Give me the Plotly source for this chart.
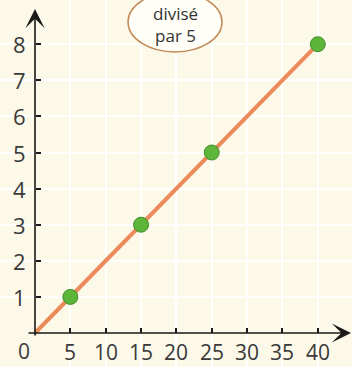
import plotly.graph_objects as go

# data
x_points = [5, 15, 25, 40]
y_points = [1, 3, 5, 8]
x_ticks = [5, 10, 15, 20, 25, 30, 35, 40]
y_ticks = [1, 2, 3, 4, 5, 6, 7, 8]
bubble_text = "divisé<br>par 5"

W, H = 352, 367
X0_PX, PX_PER_X = 35, 7.07
Y0_PX, PX_PER_Y = 333, 36.1
x_range = [-X0_PX / PX_PER_X, (W - X0_PX) / PX_PER_X]
y_range = [-(H - Y0_PX) / PX_PER_Y, Y0_PX / PX_PER_Y]

def px_to_x(p):
    return (p - X0_PX) / PX_PER_X

def px_to_y(p):
    return (Y0_PX - p) / PX_PER_Y

fig = go.Figure()

fig.add_trace(go.Scatter(
    x=[0] + x_points, y=[0] + y_points, mode="lines",
    line=dict(color="#EC8A5C", width=4), hoverinfo="skip", showlegend=False,
))
fig.add_trace(go.Scatter(
    x=x_points, y=y_points, mode="markers",
    marker=dict(color="#5DB53A", size=15, line=dict(color="#3F8F2A", width=1)),
    showlegend=False,
))

font_ticks = dict(family="Open Sans", size=21, color="#3A3A3A")
annotations = []
for v in x_ticks:
    annotations.append(dict(x=v, y=px_to_y(352), xref="x", yref="y", text=str(v),
                            showarrow=False, font=font_ticks, xanchor="center", yanchor="middle"))
for v in y_ticks:
    annotations.append(dict(x=px_to_x(28), y=v, xref="x", yref="y", text=str(v),
                            showarrow=False, font=dict(family="Open Sans", size=22, color="#3A3A3A"),
                            xanchor="right", yanchor="middle"))
annotations.append(dict(x=px_to_x(24), y=px_to_y(351), xref="x", yref="y", text="0",
                        showarrow=False, font=font_ticks, xanchor="center", yanchor="middle"))

# axis arrows
annotations.append(dict(x=0, y=px_to_y(9), ax=0, ay=px_to_y(337), xref="x", yref="y",
                        axref="x", ayref="y", text="", showarrow=True, arrowhead=3,
                        arrowsize=2, arrowwidth=1.6, arrowcolor="#1A1A1A"))
annotations.append(dict(x=px_to_x(351), y=0, ax=px_to_x(27), ay=0, xref="x", yref="y",
                        axref="x", ayref="y", text="", showarrow=True, arrowhead=3,
                        arrowsize=2, arrowwidth=1.6, arrowcolor="#1A1A1A"))

# bubble text
annotations.append(dict(x=px_to_x(175), y=px_to_y(24), xref="x", yref="y", text=bubble_text,
                        showarrow=False, font=dict(family="Open Sans", size=17, color="#333333"),
                        xanchor="center", yanchor="middle"))

shapes = [dict(type="circle", xref="x", yref="y",
               x0=px_to_x(128), x1=px_to_x(222), y0=px_to_y(52), y1=px_to_y(-8),
               fillcolor="#FFFEF7", line=dict(color="#C38A57", width=1.5), layer="above")]

fig.update_layout(
    width=W, height=H, margin=dict(l=0, r=0, t=0, b=0),
    paper_bgcolor="#FCF9E8", plot_bgcolor="#FCF9E8",
    annotations=annotations, shapes=shapes,
    xaxis=dict(range=x_range, anchor="free", position=(H - Y0_PX) / H,
               tickvals=x_ticks, showticklabels=False, ticks="inside", ticklen=5,
               tickwidth=1.5, tickcolor="#1A1A1A", showgrid=True, gridcolor="#FFFFFF",
               gridwidth=1.5, zeroline=False, showline=False, fixedrange=True),
    yaxis=dict(range=y_range, anchor="free", position=X0_PX / W,
               tickvals=y_ticks, showticklabels=False, ticks="inside", ticklen=5,
               tickwidth=1.5, tickcolor="#1A1A1A", showgrid=True, gridcolor="#FFFFFF",
               gridwidth=1.5, zeroline=False, showline=False, fixedrange=True),
)

fig.write_html("out.html", config={"displayModeBar": False},
               post_script="document.body.style.margin='0';document.body.style.background='#FCF9E8';")
